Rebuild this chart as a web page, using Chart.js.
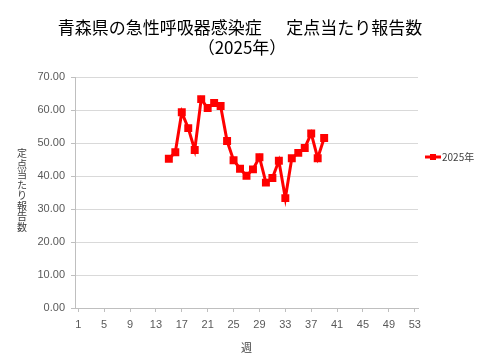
<!DOCTYPE html>
<html>
<head>
<meta charset="utf-8">
<script src="https://cdn.jsdelivr.net/npm/chart.js@4.4.1/dist/chart.umd.min.js"></script>
<style>
html, body { margin: 0; padding: 0; background: #fff; }
</style>
</head>
<body>
<canvas id="grafico" width="480" height="360"></canvas>
<script>
/* data */
var weeks = [15, 16, 17, 18, 19, 20, 21, 22, 23, 24, 25, 26, 27, 28, 29, 30, 31, 32, 33, 34, 35, 36, 37, 38, 39];
var values = [45.2, 47.2, 59.3, 54.5, 47.9, 63.3, 60.6, 62.1, 61.2, 50.6, 44.8, 42.2, 40.1, 42.0, 45.7, 38.0, 39.4, 44.6, 33.3, 45.4, 47.0, 48.5, 52.9, 45.4, 51.5];
var xTicks = [1, 5, 9, 13, 17, 21, 25, 29, 33, 37, 41, 45, 49, 53];
var yTicks = [0, 10, 20, 30, 40, 50, 60, 70];
var chartTitle = ['青森県の急性呼吸器感染症　  定点当たり報告数', '（2025年）'];
var yTitle = '定点当たり報告数';
var xTitle = '週';
var seriesName = '2025年';

var points = [];
for (var i = 0; i < weeks.length; i++) {
  points.push({ x: weeks[i], y: values[i] });
}

var jpFont = "'Noto Sans CJK JP', 'Noto Sans', sans-serif";
var tickFont = { family: "'Liberation Sans', Arial, sans-serif", size: 11 };

/* title, vertical axis title and legend drawn on the canvas */
var extras = {
  id: 'extras',
  afterDraw: function (chart) {
    var ctx = chart.ctx;
    ctx.save();
    ctx.fillStyle = '#000';
    ctx.textAlign = 'center';
    ctx.textBaseline = 'middle';
    ctx.font = '17px ' + jpFont;
    ctx.fillText(chartTitle[0], 240, 28);
    ctx.fillText(chartTitle[1], 242, 48);

    // upright characters for the y title
    ctx.fillStyle = '#404040';
    ctx.font = '10px ' + jpFont;
    var chars = Array.from(yTitle);
    var step = 10.5;
    var y0 = 190 - (chars.length - 1) * step / 2;
    for (var c = 0; c < chars.length; c++) {
      ctx.fillText(chars[c], 22, y0 + c * step);
    }

    // legend
    ctx.strokeStyle = '#ff0000';
    ctx.lineWidth = 3;
    ctx.beginPath();
    ctx.moveTo(425, 157);
    ctx.lineTo(441, 157);
    ctx.stroke();
    ctx.fillStyle = '#ff0000';
    ctx.fillRect(430, 154, 6, 6);
    ctx.fillStyle = '#404040';
    ctx.textAlign = 'left';
    ctx.font = '10px ' + jpFont;
    ctx.fillText(seriesName, 442, 157);
    ctx.restore();
  }
};

var ctx = document.getElementById('grafico');
var lineChart = new Chart(ctx, {
  type: 'line',
  data: {
    datasets: [{
      label: seriesName,
      data: points,
      borderColor: '#ff0000',
      backgroundColor: '#ff0000',
      borderWidth: 3,
      pointStyle: 'rect',
      pointRadius: 3.5,
      pointHoverRadius: 3.5,
      tension: 0
    }]
  },
  options: {
    responsive: false,
    animation: false,
    layout: { padding: { left: 0, right: 62, top: 77, bottom: 0 } },
    plugins: {
      legend: { display: false },
      title: { display: false },
      tooltip: { enabled: false }
    },
    scales: {
      x: {
        type: 'linear',
        min: 0.5,
        max: 53.5,
        afterBuildTicks: function (scale) {
          scale.ticks = xTicks.map(function (v) { return { value: v }; });
        },
        afterFit: function (scale) { scale.height = 52; },
        ticks: { color: '#595959', font: tickFont, padding: 6, maxRotation: 0, autoSkip: false },
        grid: { drawOnChartArea: false, drawTicks: true, tickLength: 4, color: '#bfbfbf' },
        border: { color: '#bfbfbf' },
        title: {
          display: true,
          text: xTitle,
          color: '#404040',
          font: { family: jpFont, size: 11 },
          padding: { top: 4, bottom: 6 }
        }
      },
      y: {
        min: 0,
        max: 70,
        afterBuildTicks: function (scale) {
          scale.ticks = yTicks.map(function (v) { return { value: v }; });
        },
        afterFit: function (scale) { scale.width = 75; },
        ticks: {
          color: '#595959',
          font: tickFont,
          padding: 6,
          callback: function (v) { return v.toFixed(2); }
        },
        grid: { color: '#d9d9d9', tickLength: 4, tickColor: '#bfbfbf' },
        border: { color: '#bfbfbf' }
      }
    }
  },
  plugins: [extras]
});
</script>
</body>
</html>
